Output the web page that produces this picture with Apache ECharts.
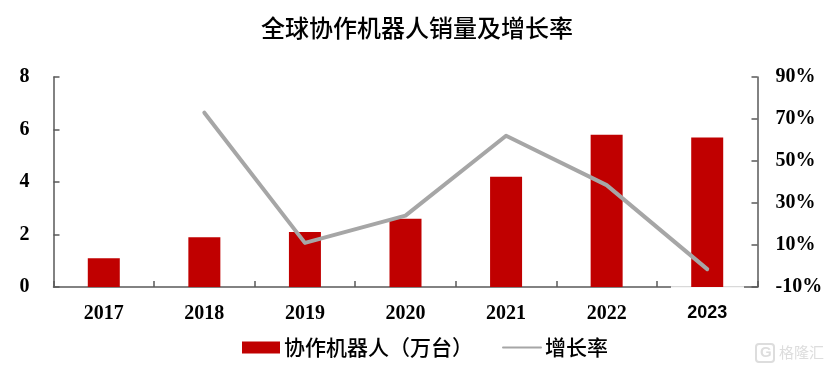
<!DOCTYPE html>
<html>
<head>
<meta charset="utf-8">
<style>html,body{margin:0;padding:0;background:#fff}#c{width:830px;height:370px}</style>
<script src="https://cdn.jsdelivr.net/npm/echarts@6/dist/echarts.min.js"></script>
</head>
<body>
<div id="c"></div>
<script>
const categories = ['2017','2018','2019','2020','2021','2022','2023'];
const salesValues = [1.1,1.9,2.1,2.6,4.2,5.8,5.7];
const growthValues = [null,73,11,24,62,38.5,-1.5];
const titleText = '全球协作机器人销量及增长率';
const barName = '协作机器人（万台）';
const lineName = '增长率';
const watermark = '格隆汇';
const serif = '"Liberation Serif"';
const sans = '"Liberation Sans"';
const cjk = '"Noto Sans CJK SC"';
const axisLine = {show:true,lineStyle:{color:'#595959',width:1.5}};
const lastIndex = categories.length - 1;
const chart = echarts.init(document.getElementById('c'),null,{renderer:'canvas'});
chart.setOption({
  animation:false,
  backgroundColor:'#fff',
  title:{text:titleText,left:256,top:11,itemGap:0,
    textStyle:{fontFamily:cjk,fontSize:24,fontWeight:500,color:'#000'}},
  grid:{left:53.5,right:72.5,top:77,bottom:83,containLabel:false},
  legend:{left:237,top:332,itemWidth:38,itemHeight:12,itemGap:29,
    textStyle:{fontFamily:cjk,fontSize:21,fontWeight:500,color:'#000',padding:[0,0,0,-1]},
    data:[{name:barName,icon:'rect'},{name:lineName,itemStyle:{opacity:0}}]},
  xAxis:{type:'category',
    data:categories.map((c,i)=> i===lastIndex ? {value:c,textStyle:{fontFamily:sans,fontSize:18}} : c),
    boundaryGap:true,
    axisLine:axisLine,axisTick:{show:true,inside:true,length:6,alignWithLabel:false,lineStyle:{color:'#595959',width:1.5}},
    axisLabel:{margin:17,fontFamily:serif,fontSize:20,fontWeight:'bold',color:'#000'}},
  yAxis:[
    {type:'value',min:0,max:8,interval:2,splitLine:{show:false},
     axisLine:axisLine,axisTick:{show:true,inside:true,length:6,lineStyle:{color:'#595959',width:1.5}},
     axisLabel:{margin:24,fontFamily:serif,fontSize:20,fontWeight:'bold',color:'#000'}},
    {type:'value',min:-10,max:90,interval:20,position:'right',splitLine:{show:false},
     axisLine:axisLine,axisTick:{show:true,inside:true,length:6,lineStyle:{color:'#595959',width:1.5}},
     axisLabel:{margin:18,fontFamily:serif,fontSize:20,fontWeight:'bold',color:'#000',formatter:'{value}%'}}
  ],
  series:[
    {name:barName,type:'bar',data:salesValues,barWidth:32,z:3,itemStyle:{color:'#C00000'}},
    {name:lineName,type:'line',yAxisIndex:1,data:growthValues,symbol:'none',z:4,connectNulls:false,
     lineStyle:{color:'#A6A6A6',width:4,cap:'round',join:'round'},itemStyle:{color:'#A6A6A6'}}
  ],
  graphic:[
    {type:'rect',z:2,shape:{x:671,y:285.5,width:73,height:3},style:{fill:'#fff'}},
    {type:'rect',z:2,shape:{x:671,y:286,width:73,height:1.2},style:{fill:'#D9D9D9'}},
    {type:'rect',z:5,shape:{x:756,y:344,width:18,height:18,r:3},style:{fill:'#fff',stroke:'#DDDDDD',lineWidth:2}},
    {type:'text',z:6,x:760,y:345,style:{text:'G',fill:'#DDDDDD',font:'bold 15px "Liberation Sans"'}},
    {type:'text',z:6,x:779,y:345,style:{text:watermark,fill:'#DDDDDD',font:'15px "Noto Sans CJK SC"'}}
  ]
});
</script>
</body>
</html>
